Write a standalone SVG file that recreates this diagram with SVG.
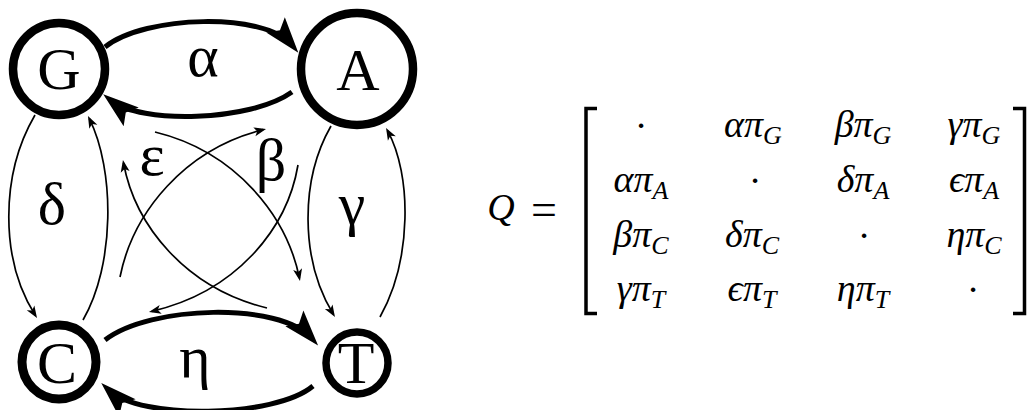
<svg xmlns="http://www.w3.org/2000/svg" width="1029" height="410" viewBox="0 0 1029 410">
<defs>
<style>
.node{fill:none;stroke:#000}
.nl,.el{font-family:"Liberation Serif","Times New Roman",serif;font-size:60px;text-anchor:middle;fill:#000}
.thick{fill:none;stroke:#000;stroke-width:5;marker-end:url(#arrowL)}
.thin{fill:none;stroke:#000;stroke-width:1.7;marker-end:url(#arrowS)}
.m{font-family:"Liberation Serif","Times New Roman",serif;font-size:38px;font-style:italic;text-anchor:middle;fill:#000}
.sub{font-size:26px}
.dot{font-family:"Liberation Serif","Times New Roman",serif;font-size:38px;text-anchor:middle;fill:#000}
.br{fill:none;stroke:#000;stroke-width:3.5;stroke-linejoin:miter}
</style>
<marker id="arrowL" markerUnits="userSpaceOnUse" viewBox="-28 -13 40 26" refX="0" refY="0" markerWidth="40" markerHeight="26" orient="auto">
<path d="M10,0 L-26,-12 L-19,0 L-26,12 Z" fill="#000"/>
</marker>
<marker id="arrowS" markerUnits="userSpaceOnUse" viewBox="-10 -5 14 10" refX="0" refY="0" markerWidth="14" markerHeight="10" orient="auto">
<path d="M3,0 L-9,-4.5 L-6,0 L-9,4.5 Z" fill="#000"/>
</marker>
</defs>
<rect width="1029" height="410" fill="#fff"/>

<g id="connectors">
<path id="e-GA" class="thick" d="M105,47 C145,15 265,12 292,45"/>
<path id="e-AG" class="thick" d="M292,92 C250,122 140,124 111,100.5"/>
<path id="e-CT" class="thick" d="M105,340 C150,305 280,302 311.5,338"/>
<path id="e-TC" class="thick" d="M313,386 C275,418 140,420 108.5,390"/>
<path id="e-GC" class="thin" d="M35,115 C0,175 0,260 35.4,315.5"/>
<path id="e-CG" class="thin" d="M83,320 C115,265 115,170 89.3,118.7"/>
<path id="e-AT" class="thin" d="M331,126 C300,180 300,260 333.4,314.4"/>
<path id="e-TA" class="thin" d="M380,317 C412,260 412,175 387.5,130.6"/>
<path id="e-GT" class="thin" d="M155,132 C237,152 287,217 299.4,278"/>
<path id="e-CA" class="thin" d="M120,277 C133,212 185,149 263.1,129.7"/>
<path id="e-TG" class="thin" d="M267,308 C185,288 135,225 123.5,163"/>
<path id="e-AC" class="thin" d="M298,165 C287,230 235,292 151.9,311.3"/>
</g>

<g id="edge-labels">
<text class="el" x="203" y="76">α</text>
<text class="el" x="195" y="377">η</text>
<text class="el" x="52" y="224">δ</text>
<text class="el" x="352" y="224">γ</text>
<text class="el" x="152" y="175">ε</text>
<text class="el" x="271" y="180">β</text>
</g>

<g id="node-G">
<circle class="node" cx="59" cy="69" r="46" stroke-width="8.5"/>
<text class="nl" x="59" y="89">G</text>
</g>
<g id="node-A">
<circle class="node" cx="357" cy="69" r="56" stroke-width="8.5"/>
<text class="nl" x="358" y="90">A</text>
</g>
<g id="node-C">
<circle class="node" cx="59" cy="362" r="37" stroke-width="9"/>
<text class="nl" x="57" y="383">C</text>
</g>
<g id="node-T">
<circle class="node" cx="357" cy="363" r="31" stroke-width="7.5"/>
<text class="nl" x="356" y="383">T</text>
</g>

<g id="matrix">
<text class="m" x="501" y="220">Q</text>
<text class="dot" x="544" y="225" style="font-size:46px">=</text>
<path class="br" d="M597,108.5 H586 V313.5 H597"/>
<path class="br" d="M1013,108.5 H1024.5 V313.5 H1013"/>

<text class="dot" x="641" y="138">·</text>
<text class="m" x="753" y="137">απ<tspan class="sub" dy="7">G</tspan></text>
<text class="m" x="863" y="137">βπ<tspan class="sub" dy="7">G</tspan></text>
<text class="m" x="974" y="137">γπ<tspan class="sub" dy="7">G</tspan></text>

<text class="m" x="641" y="192">απ<tspan class="sub" dy="7">A</tspan></text>
<text class="dot" x="755" y="193">·</text>
<text class="m" x="863" y="192">δπ<tspan class="sub" dy="7">A</tspan></text>
<text class="m" x="974" y="192">ϵπ<tspan class="sub" dy="7">A</tspan></text>

<text class="m" x="641" y="247">βπ<tspan class="sub" dy="7">C</tspan></text>
<text class="m" x="752" y="247">δπ<tspan class="sub" dy="7">C</tspan></text>
<text class="dot" x="864" y="248">·</text>
<text class="m" x="974" y="247">ηπ<tspan class="sub" dy="7">C</tspan></text>

<text class="m" x="641" y="301">γπ<tspan class="sub" dy="7">T</tspan></text>
<text class="m" x="752" y="301">ϵπ<tspan class="sub" dy="7">T</tspan></text>
<text class="m" x="863" y="301">ηπ<tspan class="sub" dy="7">T</tspan></text>
<text class="dot" x="973" y="302">·</text>
</g>
</svg>
